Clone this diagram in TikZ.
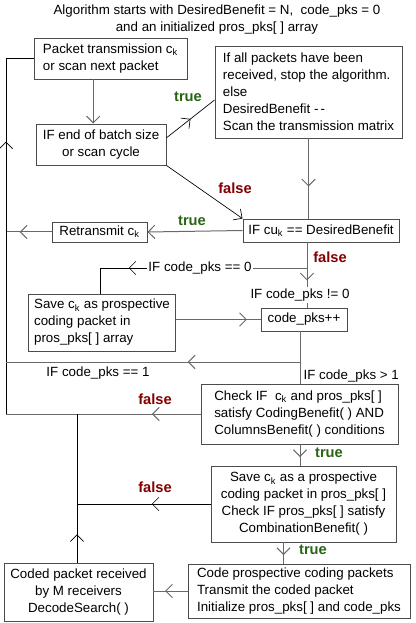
\documentclass[tikz,border=0pt]{standalone}
\usepackage{fontspec}
\setmainfont{Liberation Sans}
\usetikzlibrary{arrows.meta,positioning,calc,decorations.markings}
\definecolor{mygreen}{RGB}{40,100,20}
\definecolor{myred}{RGB}{130,0,0}
\definecolor{mygray}{RGB}{105,105,105}

\begin{document}
\begin{tikzpicture}[x=0.75pt,y=-0.75pt,
  font=\fontsize{10}{12.75}\selectfont,
  fbox/.style={rectangle,draw=black!70,line width=0.7pt,inner xsep=4pt,inner ysep=2pt},
  lbox/.style={fbox,align=left},
  cbox/.style={fbox,align=center},
  cond/.style={inner sep=1pt},
  line/.style={mygray,line width=0.75pt},
  thinline/.style={black,line width=0.5pt},
  tip/.style={-{Straight Barb[length=5pt,width=10pt]}},
  midtip/.style={postaction={decorate},decoration={markings,
      mark=at position #1 with {\arrow{Straight Barb[length=5pt,width=10pt]}}}},
  yes/.style={font=\fontsize{11}{12}\selectfont\bfseries,text=mygreen,inner sep=0pt},
  no/.style={font=\fontsize{11}{12}\selectfont\bfseries,text=myred,inner sep=0pt}]
\useasboundingbox (0,0) rectangle (415,623);
\node[align=center] (title) at (217,19.5)
  {Algorithm starts with DesiredBenefit = N,\ \ code\_pks = 0\\and an initialized pros\_pks[ ] array};
% boxes
\node[lbox,minimum width=114.75pt,minimum height=30.75pt] (pkt) at (110.5,58.5)
  {Packet transmission c\textsubscript{k}\\or scan next packet};
\node[lbox,minimum width=140.25pt,minimum height=69pt] (stop) at (308.5,92)
  {If all packets have been\\received, stop the algorithm.\\else\\DesiredBenefit -\,-\\Scan the transmission matrix};
\node[cbox,minimum width=97.5pt,minimum height=30.75pt] (batch) at (101,144.5)
  {IF end of batch size\\or scan cycle};
\node[cbox,minimum width=114pt,minimum height=17.25pt] (cu) at (321,230.5)
  {IF cu\textsubscript{k} == DesiredBenefit};
\node[cbox,minimum width=71.25pt,minimum height=15pt] (retx) at (99.5,232)
  {Retransmit c\textsubscript{k}};
\node[lbox,minimum width=105pt,minimum height=42.75pt] (save) at (102,322.5)
  {Save c\textsubscript{k} as prospective\\coding packet in\\pros\_pks[ ] array};
\node[cbox,minimum width=64.5pt,minimum height=17.25pt] (inc) at (304,319.5) {code\_pks++};
\node[lbox,minimum width=147.75pt,minimum height=45pt] (check) at (299.5,414)
  {Check IF\ \ c\textsubscript{k} and pros\_pks[ ]\\satisfy CodingBenefit( ) AND\\ColumnsBenefit( ) conditions};
\node[cbox,minimum width=138.75pt,minimum height=57pt] (save2) at (303.5,504)
  {Save c\textsubscript{k} as a prospective\\coding packet in pros\_pks[ ]\\Check IF pros\_pks[ ] satisfy\\CombinationBenefit( )};
\node[lbox,minimum width=166.5pt,minimum height=40.5pt] (code) at (299,591)
  {Code prospective coding packets\\Transmit the coded packet\\Initialize pros\_pks[ ] and code\_pks};
\node[cbox,minimum width=111.75pt,minimum height=43.5pt] (coded) at (78.5,592)
  {Coded packet received\\by M receivers\\DecodeSearch( )};
% conditions on the lines
\node[cond] (eq0) at (200,268) {IF code\_pks == 0};
\node[cond] (ne0) at (300,295) {IF code\_pks != 0};
\node[cond] (eq1) at (98,373) {IF code\_pks == 1};
\node[cond,anchor=west] (gt1) at (302,376) {IF code\_pks > 1};
% junctions
\coordinate (tl) at (6,58);
\coordinate (bl) at (6,414);
\coordinate (j0) at (307,268);
\coordinate (s0) at (100,268);
\coordinate (j1) at (300,362);
\coordinate (m1) at (77,414);
% connectors
\draw[line,tip] ([xshift=-13pt]pkt.south) -- ([xshift=-13pt]pkt.south |- batch.north);
\draw[thinline,midtip=0.5] ([yshift=5pt]batch.east) -- ([yshift=-6pt]stop.west);
\node[yes] (t1) at (188,97) {true};
\draw[line,midtip=0.6] (stop.south) -- (stop.south |- cu.north);
\draw[thinline,tip] (batch.south east) -- (cu.north west);
\node[no] (f1) at (235,188) {false};
\draw[line,tip] (cu.west) -- (retx.east);
\node[yes] (t2) at (192,221) {true};
\draw[line,midtip=0.7] (retx.west) -- (retx.west -| tl);
\draw[thinline,midtip=0.71] (bl) -- (tl) -- (tl -| pkt.west);
\draw[line,midtip=0.85] (cu.south -| j0) -- (ne0.north -| j0);
\node[no] (f2) at (330,257) {false};
\draw[line] (j0) -- (eq0.east);
\draw[thinline,midtip=0.25] (eq0.west) -- (s0) -- (s0 |- save.north);
\draw[line] (ne0.south -| j0) -- (inc.north -| j0);
\draw[line,midtip=0.84] (save.east |- inc) -- (inc.west);
\draw[line,midtip=0.44] (inc.south -| j1) -- (j1) -- (j1 -| tl);
\draw[line] (j1) -- (j1 |- check.north);
\draw[line,midtip=0.25] (check.west) -- (check.west -| tl);
\node[no] (f3) at (155,399) {false};
\draw[line,midtip=0.6] (check.south -| j1) -- (save2.north -| j1);
\node[yes] (t3) at (329,453) {true};
\draw[thinline,midtip=0.44] (save2.west) -- (save2.west -| m1);
\node[no] (f4) at (155,487) {false};
\draw[thinline,midtip=0.19] (coded.north -| m1) -- (m1);
\draw[line,midtip=0.6] ([xshift=-15pt]save2.south) -- ([xshift=-15pt]save2.south |- code.north);
\node[yes] (t4) at (313,550) {true};
\draw[line,midtip=0.66] (code.west) -- (code.west -| coded.east);
\end{tikzpicture}
\end{document}
